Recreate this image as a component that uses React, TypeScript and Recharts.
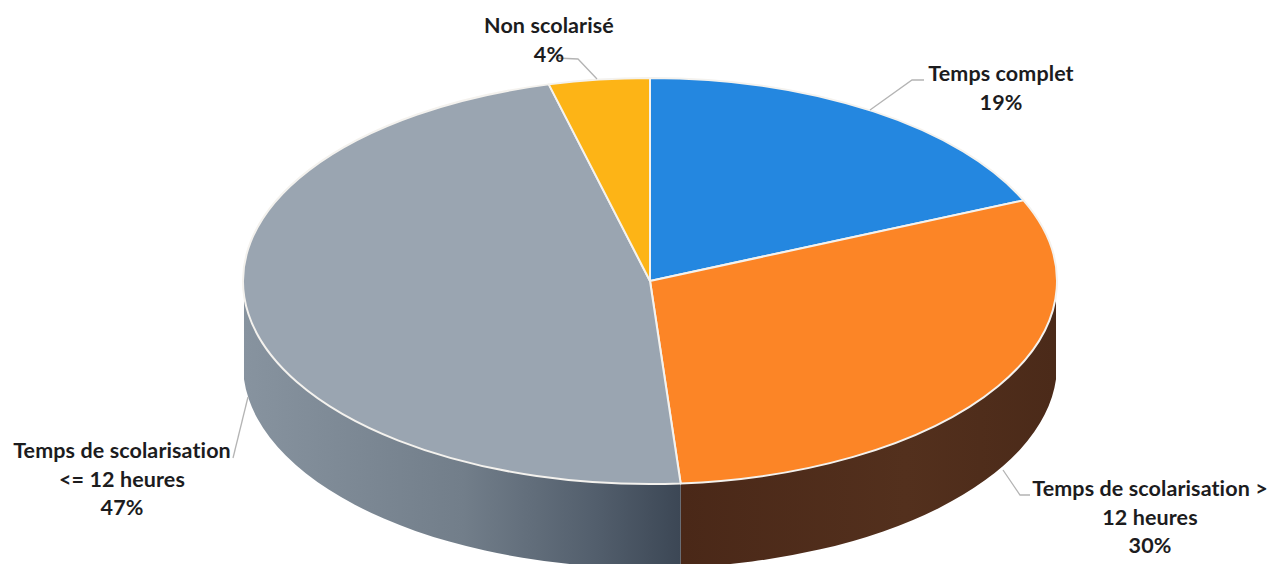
import React from 'react';
import { PieChart, Pie, Cell } from 'recharts';

const categories = ['Temps complet', 'Temps de scolarisation > 12 heures', 'Temps de scolarisation <= 12 heures', 'Non scolarisé'];
const shares = [18.5, 30.3, 47.2, 4.0];
const topColors = ['#2487e0', '#fc8526', '#9aa5b1', '#fdb416'];
const wallFills = ['#1a5c9c', 'url(#wallOrange)', 'url(#wallGray)', '#b07c10'];

// label text lines (the percentage is appended from the data) and where they sit
const labelLines = [['Temps complet'], ['Temps de scolarisation >', '12 heures'], ['Temps de scolarisation', '<= 12 heures'], ['Non scolarisé']];
const labelCenters = [[1001, 75], [1150, 490], [122, 452], [549, 27]];
const leaders = [
  '870,110 912,80 924,80',
  '1003,470 1020,495 1030,495',
  '233,458 248,397',
  '556,58 578,59 597,79',
];

const chartData = categories.map((name, i) => ({ name, value: shares[i] }));

const SQUASH = 203 / 407;
const DEPTH = 84;
const WALL_INSET = 4; // the wall starts a little below the widest point of the top
const RAD = Math.PI / 180;

const pt = (cx: number, cy: number, r: number, deg: number) => ({
  x: cx + r * Math.cos(deg * RAD),
  y: cy - r * SQUASH * Math.sin(deg * RAD),
});

// flattened sector for the top of the pie
const TopSector = (props: any) => {
  const { cx, cy, outerRadius: r, startAngle, endAngle, fill } = props;
  const a = pt(cx, cy, r, startAngle);
  const b = pt(cx, cy, r, endAngle);
  const large = Math.abs(startAngle - endAngle) > 180 ? 1 : 0;
  const d = `M${cx},${cy} L${a.x},${a.y} A${r},${r * SQUASH} 0 ${large} 1 ${b.x},${b.y} Z`;
  return <path d={d} fill={fill} stroke="#f4f2ee" strokeWidth={2} strokeLinejoin="round" />;
};

// side wall, only the part of a sector that faces the viewer
const WallSector = (props: any) => {
  const { cx, cy, outerRadius: r, startAngle, endAngle, fill } = props;
  const from = Math.min(startAngle, -WALL_INSET);
  const to = Math.max(endAngle, -180 + WALL_INSET);
  if (from <= to) return <g />;
  const a = pt(cx, cy, r, from);
  const b = pt(cx, cy, r, to);
  const ry = r * SQUASH;
  const d = `M${a.x},${a.y} A${r},${ry} 0 0 1 ${b.x},${b.y} L${b.x},${b.y + DEPTH} A${r},${ry} 0 0 0 ${a.x},${a.y + DEPTH} Z`;
  return <path d={d} fill={fill} />;
};

const SliceLabel = (props: any) => {
  const i = props.index;
  const [x, y] = labelCenters[i];
  const lines = [...labelLines[i], Math.round(shares[i]) + '%'];
  return (
    <g>
      <polyline points={leaders[i]} fill="none" stroke="#b4b4b4" strokeWidth={1.3} />
      <text x={x} y={y} textAnchor="middle" dominantBaseline="middle" fontFamily="Lato, sans-serif" fontWeight={700} fontSize={21.5} letterSpacing={0.1} fill="#1c1c1e">
        {lines.map((line, n) => (
          <tspan key={n} x={x} dy={n === 0 ? 0 : 28.5}>{line}</tspan>
        ))}
      </text>
    </g>
  );
};

export default function App() {
  return (
    <div style={{ position: 'fixed', left: 0, top: 0, width: 1274, height: 564, overflow: 'hidden', background: '#fff' }}>
      <PieChart width={1274} height={564} margin={{ top: 0, right: 0, bottom: 0, left: 0 }}>
        <defs>
          <linearGradient id="wallGray" x1="0" y1="0" x2="1" y2="0">
            <stop offset="0" stopColor="#87939f" />
            <stop offset="0.5" stopColor="#727e8a" />
            <stop offset="0.8" stopColor="#535f6d" />
            <stop offset="1" stopColor="#3c4755" />
          </linearGradient>
          <linearGradient id="wallOrange" x1="0" y1="0" x2="1" y2="0">
            <stop offset="0" stopColor="#4a2818" />
            <stop offset="0.6" stopColor="#53301d" />
            <stop offset="1" stopColor="#4b2a19" />
          </linearGradient>
        </defs>
        <Pie
          data={chartData}
          dataKey="value"
          cx={650}
          cy={281}
          outerRadius={407}
          startAngle={90}
          endAngle={-270}
          shape={WallSector}
          stroke="none"
          isAnimationActive={false}
        >
          {chartData.map((d, i) => <Cell key={d.name} fill={wallFills[i]} />)}
        </Pie>
        <Pie
          data={chartData}
          dataKey="value"
          cx={650}
          cy={281}
          outerRadius={407}
          startAngle={90}
          endAngle={-270}
          shape={TopSector}
          label={SliceLabel}
          labelLine={false}
          isAnimationActive={false}
        >
          {chartData.map((d, i) => <Cell key={d.name} fill={topColors[i]} />)}
        </Pie>
      </PieChart>
    </div>
  );
}
